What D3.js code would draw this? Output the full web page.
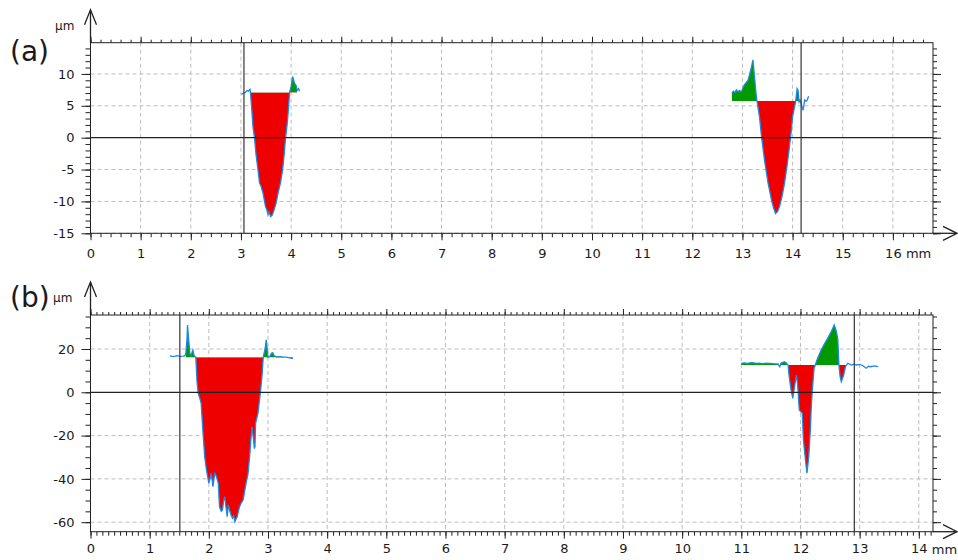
<!DOCTYPE html>
<html>
<head>
<meta charset="utf-8">
<script src="https://cdn.jsdelivr.net/npm/d3@7/dist/d3.min.js"></script>
<style>
  body { margin: 0; background: #fff; }
  text { font-family: "DejaVu Sans", sans-serif; fill: #1a1a1a; }
</style>
</head>
<body>
<svg id="chart" width="958" height="560"></svg>
<script>
// ---- panel (a) data ----
const xTicksA = [0, 1, 2, 3, 4, 5, 6, 7, 8, 9, 10, 11, 12, 13, 14, 15, 16];
const yTicksA = [-15, -10, -5, 0, 5, 10];
const cursorsA = [3.06, 14.17];
// [x mm, z µm]
const profileA1 = [[3.01,6.8],[3.05,7.0],[3.09,7.1],[3.12,7.4],[3.15,7.3],[3.18,7.6],[3.19,7.1],[3.22,4.0],[3.24,1.7],[3.27,0],[3.30,-2.6],[3.34,-5.1],[3.37,-7.1],[3.40,-7.6],[3.44,-8.7],[3.47,-10.0],[3.49,-10.8],[3.52,-11.4],[3.54,-12.1],[3.56,-11.6],[3.59,-12.4],[3.62,-12.2],[3.65,-11.6],[3.70,-10.3],[3.74,-8.7],[3.79,-7.0],[3.83,-5.1],[3.86,-2.8],[3.89,0],[3.92,2.0],[3.94,3.8],[3.97,7.1],[4.0,8.0],[4.03,9.6],[4.07,8.5],[4.10,8.2],[4.12,7.4],[4.15,7.7],[4.17,7.3]];
const profileA2 = [[12.79,7.0],[12.82,7.3],[12.85,7.1],[12.88,7.5],[12.91,7.2],[12.94,7.4],[12.98,7.2],[13.01,7.8],[13.04,8.3],[13.07,8.6],[13.11,9.0],[13.14,9.8],[13.18,11.1],[13.21,12.2],[13.24,9.6],[13.27,7.0],[13.29,5.75],[13.34,3.3],[13.38,0.2],[13.44,-3.5],[13.51,-7.1],[13.55,-8.6],[13.58,-9.8],[13.62,-11.0],[13.66,-11.9],[13.70,-11.6],[13.74,-10.8],[13.79,-9.2],[13.84,-7.1],[13.89,-4.4],[13.93,-1.9],[13.97,0.8],[14.0,3.3],[14.06,5.6],[14.08,7.0],[14.09,7.7],[14.11,7.4],[14.13,5.6],[14.15,5.9],[14.17,5.4],[14.19,4.8],[14.21,4.3],[14.24,5.9],[14.27,5.7],[14.29,5.9],[14.32,6.5]];
const levelsA = [7.1, 5.75];
const fillRangesA = [[3.19, 4.12], [12.79, 14.13]];

// ---- panel (b) data ----
const xTicksB = [0, 1, 2, 3, 4, 5, 6, 7, 8, 9, 10, 11, 12, 13, 14];
const yTicksB = [-60, -40, -20, 0, 20];
const cursorsB = [1.51, 12.91];
const profileB1 = [[1.34,16.8],[1.40,16.5],[1.46,16.9],[1.52,16.6],[1.58,16.7],[1.61,17.5],[1.63,24],[1.64,31.1],[1.66,24],[1.68,18],[1.70,17.0],[1.73,19.5],[1.75,17],[1.78,16.2],[1.80,5],[1.82,-0.5],[1.85,-3],[1.87,-5.1],[1.90,-18],[1.93,-29.7],[1.96,-35.9],[2.0,-42],[2.02,-40],[2.04,-37.4],[2.07,-43.6],[2.10,-37.4],[2.13,-39],[2.16,-42],[2.18,-52.8],[2.21,-55],[2.23,-54.4],[2.25,-50],[2.27,-48.2],[2.29,-53],[2.31,-57.5],[2.33,-52],[2.35,-54.4],[2.38,-57],[2.40,-58.2],[2.42,-57],[2.44,-59.8],[2.46,-58.5],[2.48,-57.5],[2.50,-55],[2.52,-52.8],[2.55,-51],[2.58,-49.7],[2.61,-45],[2.64,-40.5],[2.66,-38.2],[2.69,-29.7],[2.71,-22],[2.73,-15.9],[2.75,-20.5],[2.77,-26],[2.78,-25.1],[2.79,-14.3],[2.83,-9.7],[2.87,-0.5],[2.90,8],[2.92,16.2],[2.95,20],[2.97,24.2],[2.99,19],[3.0,16.2],[3.03,16.5],[3.06,18],[3.08,18.3],[3.10,17.0],[3.14,16.4],[3.20,16.5],[3.25,16.3],[3.30,16.2],[3.35,16.0],[3.40,15.7],[3.42,15.6]];
const profileB2 = [[11.0,13.4],[11.05,13.6],[11.10,13.3],[11.15,13.6],[11.19,13.7],[11.25,13.4],[11.30,13.5],[11.36,13.2],[11.42,13.5],[11.48,13.4],[11.55,13.2],[11.62,13.1],[11.65,11.8],[11.67,13.4],[11.70,13.8],[11.73,14.1],[11.76,13.5],[11.79,12.6],[11.81,7.2],[11.84,1.1],[11.87,-2.8],[11.90,2.6],[11.93,8.0],[11.95,4.2],[11.98,-8.2],[12.03,-9.7],[12.05,-22],[12.09,-32.8],[12.11,-37.4],[12.14,-29.7],[12.17,-15.9],[12.18,-8.2],[12.20,1.1],[12.23,11.1],[12.25,12.6],[12.29,15.7],[12.35,19.5],[12.41,22.6],[12.46,24.9],[12.52,28.0],[12.57,31.1],[12.60,28.8],[12.63,24.9],[12.65,12.6],[12.67,7.2],[12.69,4.9],[12.73,8.0],[12.76,11.8],[12.78,12.6],[12.80,13.4],[12.86,12.6],[12.90,13.0],[12.94,12.6],[13.0,12.9],[13.03,12.6],[13.07,12.0],[13.11,11.1],[13.15,12.0],[13.19,11.8],[13.25,12.2],[13.31,11.8]];
const levelsB = [16.2, 12.6];
const fillRangesB = [[1.60, 3.42], [11.0, 12.78]];

const svg = d3.select('#chart');
let clipId = 0;

function drawPanel(p) {
  const x = d3.scaleLinear().domain(p.xDomain).range([p.left, p.right]);
  const y = d3.scaleLinear().domain(p.yDomain).range([p.bottom, p.top]);
  const g = svg.append('g');

  // dashed grid
  g.append('g').selectAll('line').data(p.xTicks.filter(d => d > 0)).join('line')
    .attr('x1', d => x(d)).attr('x2', d => x(d))
    .attr('y1', p.top).attr('y2', p.bottom)
    .attr('stroke', '#bdbdbd').attr('stroke-dasharray', '4,3');
  g.append('g').selectAll('line').data(p.yTicks.filter(d => d !== 0)).join('line')
    .attr('x1', p.left).attr('x2', p.right)
    .attr('y1', d => y(d)).attr('y2', d => y(d))
    .attr('stroke', '#bdbdbd').attr('stroke-dasharray', '4,3');

  // groove fills: green above the reference level, red below
  p.profiles.forEach((prof, i) => {
    const level = p.levels[i];
    const [a, b] = p.fillRanges[i];
    const pts = prof.filter(d => d[0] >= a && d[0] <= b);
    const area = d3.area().x(d => x(d[0])).y0(y(level)).y1(d => y(d[1]));
    const up = 'clip' + (clipId++), dn = 'clip' + (clipId++);
    const defs = g.append('defs');
    defs.append('clipPath').attr('id', up).append('rect')
      .attr('x', p.left).attr('y', p.top).attr('width', p.right - p.left).attr('height', y(level) - p.top);
    defs.append('clipPath').attr('id', dn).append('rect')
      .attr('x', p.left).attr('y', y(level)).attr('width', p.right - p.left).attr('height', p.bottom - y(level));
    g.append('path').datum(pts).attr('d', area).attr('fill', '#009a00').attr('clip-path', `url(#${up})`);
    g.append('path').datum(pts).attr('d', area).attr('fill', '#ee0000').attr('clip-path', `url(#${dn})`);
    g.append('path').datum(prof)
      .attr('d', d3.line().x(d => x(d[0])).y(d => y(d[1])))
      .attr('fill', 'none').attr('stroke', '#1e88e5').attr('stroke-width', 1.3);
  });

  // zero line and cursors
  g.append('line').attr('x1', p.left).attr('x2', p.right).attr('y1', y(0)).attr('y2', y(0))
    .attr('stroke', '#222').attr('stroke-width', 1.2);
  g.append('g').selectAll('line').data(p.cursors).join('line')
    .attr('x1', d => x(d)).attr('x2', d => x(d)).attr('y1', p.top).attr('y2', p.bottom)
    .attr('stroke', '#333').attr('stroke-width', 1.2);

  // frame
  g.append('rect').attr('x', p.left).attr('y', p.top)
    .attr('width', p.right - p.left).attr('height', p.bottom - p.top)
    .attr('fill', 'none').attr('stroke', '#222');

  const last = p.xTicks[p.xTicks.length - 1];
  const minorX = d3.range(0, p.xDomain[1], p.xMinor);
  const minorY = d3.range(p.yMinorStart, p.yDomain[1], p.yMinor);
  const axes = [
    [d3.axisBottom(x).tickValues(minorX).tickSize(4).tickFormat(''), `translate(0,${p.bottom})`],
    [d3.axisBottom(x).tickValues(p.xTicks).tickSize(7).tickPadding(p.xPad).tickFormat(d => d), `translate(0,${p.bottom})`],
    [d3.axisTop(x).tickValues(minorX).tickSize(3).tickFormat(''), `translate(0,${p.top})`],
    [d3.axisTop(x).tickValues(p.xTicks).tickSize(6).tickFormat(''), `translate(0,${p.top})`],
    [d3.axisLeft(y).tickValues(minorY).tickSize(5).tickFormat(''), `translate(${p.left},0)`],
    [d3.axisLeft(y).tickValues(p.yTicks).tickSize(9).tickPadding(7).tickFormat(d => d), `translate(${p.left},0)`],
    [d3.axisRight(y).tickValues(minorY).tickSize(4).tickFormat(''), `translate(${p.right},0)`],
    [d3.axisRight(y).tickValues(p.yTicks).tickSize(8).tickFormat(''), `translate(${p.right},0)`]
  ];
  axes.forEach(([ax, tr]) => {
    const a = g.append('g').attr('transform', tr).call(ax);
    a.select('.domain').remove();
    a.selectAll('line').attr('stroke', '#222');
    a.selectAll('text').attr('font-size', 13).attr('font-family', '"DejaVu Sans", sans-serif').attr('fill', '#1a1a1a');
  });

  // unit on the last x label
  g.append('text').attr('x', x(last) + 13).attr('y', p.bottom + p.xPad + 7 + 9.3)
    .attr('font-size', 13).text('mm');

  // axis arrows
  const arrow = g.append('g').attr('fill', 'none').attr('stroke', '#222').attr('stroke-width', 1.3);
  arrow.append('line').attr('x1', p.left).attr('x2', p.left).attr('y1', p.top).attr('y2', p.top - 32);
  arrow.append('path').attr('d', `M${p.left - 6},${p.top - 18}L${p.left},${p.top - 33}L${p.left + 6},${p.top - 18}`);
  arrow.append('line').attr('x1', p.right).attr('x2', 956).attr('y1', p.bottom).attr('y2', p.bottom);
  arrow.append('path').attr('d', `M943,${p.bottom - 7}L957,${p.bottom}L943,${p.bottom + 7}`);

  g.append('text').attr('x', p.unitX).attr('y', p.top - 13).attr('font-size', 12).text('µm');
  g.append('text').attr('x', 10).attr('y', p.labelY)
    .attr('font-family', '"Liberation Sans", sans-serif').attr('font-size', 28).text(p.label);
}

drawPanel({
  label: '(a)', labelY: 61, unitX: 55,
  left: 90.5, right: 933, top: 42.7, bottom: 233.3,
  xDomain: [0, 16.8], yDomain: [-15, 14.9],
  xTicks: xTicksA, yTicks: yTicksA, xMinor: 0.2, yMinor: 1, yMinorStart: -15, xPad: 8,
  cursors: cursorsA, profiles: [profileA1, profileA2], levels: levelsA, fillRanges: fillRangesA
});

drawPanel({
  label: '(b)', labelY: 307, unitX: 53,
  left: 90.5, right: 933, top: 315, bottom: 531.7,
  xDomain: [0, 14.24], yDomain: [-64.4, 35.7],
  xTicks: xTicksB, yTicks: yTicksB, xMinor: 0.1, yMinor: 5, yMinorStart: -60, xPad: 5.5,
  cursors: cursorsB, profiles: [profileB1, profileB2], levels: levelsB, fillRanges: fillRangesB
});
</script>
</body>
</html>
